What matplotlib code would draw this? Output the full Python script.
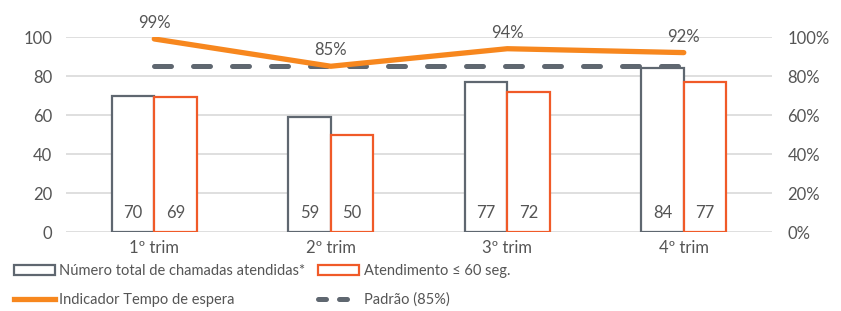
import numpy as np
import matplotlib.pyplot as plt
from matplotlib.patches import Patch
from matplotlib.lines import Line2D

plt.rcParams['font.family'] = ['Lato', 'DejaVu Sans']
plt.rcParams['font.size'] = 12

trimestres = ['1º trim', '2º trim', '3º trim', '4º trim']
total_chamadas = [70, 59, 77, 84]
atend_60s = [69, 50, 72, 77]
indicador = [99, 85, 94, 92]
padrao = [85, 85, 85, 85]

cinza = '#5f6770'
laranja_barra = '#f05a28'
laranja_linha = '#f7871e'
txt = '#555555'
grade = '#d9d9d9'

fig = plt.figure(figsize=(8.41, 3.11), dpi=100)
ax = fig.add_axes([0.0785, 0.254, 0.8395, 0.627])
ax2 = ax.twinx()

x = np.arange(len(trimestres))
w = 0.24

ax.set_axisbelow(True)
ax.yaxis.grid(True, color=grade, linewidth=1.2)
ax.bar(x - w / 2, total_chamadas, w, facecolor='white', edgecolor=cinza, linewidth=1.6, zorder=2)
ax.bar(x + w / 2, atend_60s, w, facecolor='white', edgecolor=laranja_barra, linewidth=1.6, zorder=2)
for i in range(len(x)):
    ax.text(x[i] - w / 2, 10, str(total_chamadas[i]), ha='center', va='center', color=txt, fontsize=12, zorder=3)
    ax.text(x[i] + w / 2, 10, str(atend_60s[i]), ha='center', va='center', color=txt, fontsize=12, zorder=3)

ax.set_xlim(-0.5, 3.5)
ax.set_ylim(0, 100)
ax.set_yticks(range(0, 101, 20))
ax.set_xticks(x)
ax.set_xticklabels(trimestres)

ax2.plot(x, padrao, color=cinza, linewidth=3.6, dashes=(3.4, 4.4), dash_capstyle='round', zorder=4)
ax2.plot(x, indicador, color=laranja_linha, linewidth=3.8, solid_capstyle='round', zorder=5)
for i in range(len(x)):
    ax2.text(x[i], indicador[i] + 4, f'{indicador[i]}%', ha='center', va='bottom', color=txt,
             fontsize=12, clip_on=False)
ax2.set_ylim(0, 100)
ax2.set_yticks(range(0, 101, 20))
ax2.set_yticklabels([f'{v}%' for v in range(0, 101, 20)])

for a in (ax, ax2):
    for s in a.spines.values():
        s.set_visible(False)
    a.tick_params(length=0, colors=txt, labelsize=12)
ax.tick_params(axis='y', pad=10)
ax2.tick_params(axis='y', pad=11)
ax.tick_params(axis='x', pad=6)

handles = [
    Patch(facecolor='white', edgecolor=cinza, linewidth=1.6, label='Número total de chamadas atendidas*'),
    Patch(facecolor='white', edgecolor=laranja_barra, linewidth=1.6, label='Atendimento ≤ 60 seg.'),
    Line2D([], [], color=laranja_linha, linewidth=3.8, label='Indicador Tempo de espera'),
    Line2D([], [], color=cinza, linewidth=3.6, dashes=(1.6, 2.6), dash_capstyle='round', label='Padrão (85%)'),
]
fig.legend(handles=[handles[0], handles[2], handles[1], handles[3]], ncol=2, loc='upper left',
           bbox_to_anchor=(0.013, 0.16), frameon=False, labelcolor=txt, fontsize=10.5,
           handlelength=2.8, handletextpad=0.3, columnspacing=0.9, labelspacing=1.0,
           handleheight=0.7, borderpad=0.2, borderaxespad=0)

fig.savefig('out.png', dpi=100)
